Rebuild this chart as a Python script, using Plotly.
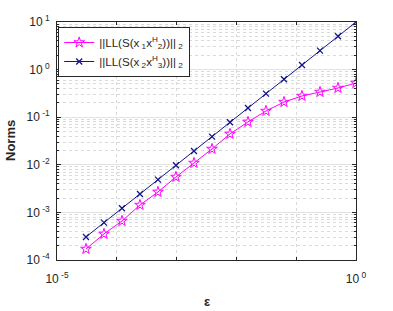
import plotly.graph_objects as go

# epsilon values: 2^-15 ... 2^0
eps = [2.0 ** (-k) for k in range(15, -1, -1)]
norm_12 = [1.70e-4, 3.52e-4, 6.59e-4, 1.43e-3, 2.68e-3, 5.55e-3, 1.09e-2, 2.15e-2,
           4.44e-2, 7.93e-2, 0.135, 0.208, 0.279, 0.338, 0.410, 0.522]
norm_23 = [3.05e-4, 6.10e-4, 1.22e-3, 2.44e-3, 4.88e-3, 9.77e-3, 1.95e-2, 3.91e-2,
           7.81e-2, 0.156, 0.3125, 0.625, 1.25, 2.5, 5.0, 10.0]

name_12 = "||LL(S(x<sub> 1</sub>x<sup>H</sup><sub>2</sub>))||<sub> 2</sub>"
name_23 = "||LL(S(x<sub> 2</sub>x<sup>H</sup><sub>3</sub>))||<sub> 2</sub>"

x_tickvals = [1e-5, 1e0]
x_ticktext = ["10<sup> -5</sup>", "10<sup> 0</sup>"]
x_minorvals = [1e-4, 1e-3, 1e-2, 1e-1]
y_tickvals = [1e-4, 1e-3, 1e-2, 1e-1, 1e0, 1e1]
y_ticktext = ["10<sup> -4</sup>", "10<sup> -3</sup>", "10<sup> -2</sup>",
              "10<sup> -1</sup>", "10<sup> 0</sup>", "10<sup> 1</sup>"]
y_minorvals = [m * 10.0 ** e for e in range(-4, 1) for m in range(2, 10)]

FONT = "Liberation Sans, Arial, Helvetica, sans-serif"
AX = "#262626"
GRID = "#e3e3e3"
MGRID = "#dadada"

W, H = 393, 311
ML, MR, MT, MB = 57, 37, 22, 51

fig = go.Figure()
fig.add_trace(go.Scatter(
    x=eps, y=norm_12, mode="lines+markers", name=name_12,
    line=dict(color="#ff00ff", width=1),
    marker=dict(symbol="star-open", size=8, color="#ff00ff", line=dict(width=1)),
))
fig.add_trace(go.Scatter(
    x=eps, y=norm_23, mode="lines+markers", name=name_23,
    line=dict(color="#14148c", width=1),
    marker=dict(symbol="x-thin-open", size=6, color="#14148c", line=dict(width=1.3, color="#14148c")),
))

pw = W - ML - MR
ph = H - MT - MB
fig.update_layout(
    width=W, height=H,
    margin=dict(l=ML, r=MR, t=MT, b=MB),
    paper_bgcolor="white", plot_bgcolor="white",
    font=dict(family=FONT, size=11, color=AX),
    showlegend=True,
    legend=dict(
        x=0.004, y=0.979, xanchor="left", yanchor="top",
        bgcolor="white", bordercolor=AX, borderwidth=1,
        font=dict(family=FONT, size=11.6, color=AX),
        tracegroupgap=0, itemwidth=30,
    ),
    annotations=[
        dict(text="<b>Norms</b>", xref="paper", yref="paper",
             x=(10 - ML) / pw, y=0.5, textangle=-90, showarrow=False,
             xanchor="center", yanchor="middle", font=dict(size=13, color=AX)),
        dict(text="<b>ε</b>", xref="paper", yref="paper",
             x=0.5, y=-(301 - 260) / ph, showarrow=False,
             xanchor="center", yanchor="middle", font=dict(size=13, color=AX)),
    ],
)
fig.update_xaxes(
    type="log", range=[-5, 0], automargin=False,
    tickmode="array", tickvals=x_tickvals, ticktext=x_ticktext,
    ticks="inside", ticklen=4, tickcolor=AX, tickwidth=0.6,
    showline=True, linecolor=AX, linewidth=0.8, mirror="allticks",
    showgrid=True, gridcolor=GRID, gridwidth=0.6,
    tickfont=dict(size=12), ticklabelstandoff=8,
    minor=dict(tickvals=x_minorvals, ticks="inside", ticklen=3, tickcolor=AX,
               showgrid=True, gridcolor=MGRID, griddash="dot", gridwidth=1),
    zeroline=False,
)
fig.update_yaxes(
    type="log", range=[-4, 1], automargin=False,
    tickmode="array", tickvals=y_tickvals, ticktext=y_ticktext,
    ticks="inside", ticklen=4, tickcolor=AX, tickwidth=0.6,
    showline=True, linecolor=AX, linewidth=0.8, mirror="allticks",
    showgrid=True, gridcolor=GRID, gridwidth=0.6,
    tickfont=dict(size=12), ticklabelstandoff=4,
    minor=dict(tickvals=y_minorvals, ticks="inside", ticklen=2, tickcolor=AX,
               showgrid=True, gridcolor=MGRID, griddash="dot", gridwidth=1),
    zeroline=False,
)

fig.write_html(
    "out.html",
    config={"displayModeBar": False},
    post_script="document.body.style.margin='0';document.body.style.overflow='hidden';",
)
